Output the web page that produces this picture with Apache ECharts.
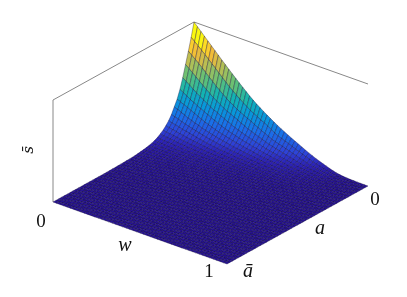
<!DOCTYPE html>
<html><head><meta charset="utf-8">
<style>html,body{margin:0;padding:0;background:#fff}#c{width:407px;height:297px}</style>
<script src="https://cdn.jsdelivr.net/npm/echarts@6/dist/echarts.min.js"></script>
</head><body><div id="c"></div>
<script>
// Surface heights (per mille of full height).
// Each row is one a-step from a=0; columns are w-steps from w=0. Omitted cells are 0.
const cellsPerSide = 50;
const zRows = [
[1000,966,932,897,863,828,794,760,725,692,659,626,594,562,531,500,470,441,415,390,366,343,321,299,278,258,239,221,203,186,169,152,134,118,103,88,75,62,50,38,27,18,12,8,5,3,2,1,1],
[865,835,805,774,743,709,677,645,610,577,545,512,484,456,429,403,379,356,335,316,298,281,261,239,217,202,188,175,161,148,134,121,106,94,81,68,59,49,39,31,22,14,10,6,4,2,2,1],
[745,716,687,658,628,594,562,530,498,469,441,413,390,368,346,326,308,291,275,256,238,221,205,188,172,160,149,139,127,117,106,96,84,74,63,53,46,39,32,25,18,11,8,5,3,2,1],
[630,601,572,543,513,484,456,428,401,378,356,333,316,299,283,266,248,231,215,201,188,175,162,149,137,127,118,110,101,93,84,75,65,57,50,42,37,31,26,20,14,9,6,4,2,1],
[515,490,465,439,413,390,368,345,325,307,291,273,256,240,223,208,195,182,170,159,149,139,129,118,108,101,94,87,80,73,66,59,52,45,39,34,30,25,21,16,11,7,5,3,2,1],
[415,395,375,354,334,316,299,283,265,247,231,214,201,188,176,165,154,144,135,126,118,110,102,94,86,80,74,68,62,57,52,46,41,36,32,28,25,21,17,13,9,6,4,3,1],
[335,320,305,289,274,256,240,223,207,194,182,169,159,149,140,131,122,114,107,100,94,87,81,74,67,62,57,53,49,45,41,37,33,29,26,22,20,17,13,10,7,5,3,2,1],
[275,260,245,229,214,201,188,176,164,154,144,134,126,118,111,104,97,90,85,79,73,68,63,57,53,49,45,42,39,36,33,30,27,24,21,18,16,13,11,8,6,4,2,2],
[215,204,193,181,169,159,149,140,130,122,114,106,100,94,88,82,76,71,66,62,57,53,49,45,42,39,36,34,31,29,27,25,22,20,17,14,12,10,9,7,5,3,2,1],
[170,161,152,143,134,126,118,111,103,97,90,84,79,74,69,64,60,56,52,49,45,42,39,36,33,31,29,27,26,24,22,20,18,16,13,11,10,8,7,6,4,2,1],
[135,128,121,114,106,100,94,88,82,76,71,66,62,58,54,50,47,44,41,39,36,34,32,29,27,26,24,22,21,19,18,16,14,12,11,9,8,7,6,5,3,2,1],
[107,101,96,90,85,79,74,69,64,60,56,52,49,45,43,40,37,35,33,31,29,28,26,24,22,21,20,18,17,15,14,12,11,10,9,7,6,6,5,4,2,1],
[85,80,75,71,66,62,58,54,50,47,44,41,39,36,34,32,30,29,27,25,24,22,21,20,18,17,16,14,13,12,11,10,9,8,7,6,5,5,4,3,2,1],
[66,62,58,55,52,49,46,43,40,38,35,33,31,29,28,26,25,24,22,21,20,18,17,16,15,14,13,12,11,10,9,8,7,7,6,5,5,4,3,2,1],
[52,49,46,43,41,38,36,34,32,30,29,27,26,24,23,22,21,19,18,17,16,15,14,13,12,11,10,10,9,8,8,7,6,6,5,5,4,3,2,2,1],
[41,39,37,35,33,31,30,29,27,26,25,23,22,21,20,18,17,16,15,14,13,12,12,11,10,9,9,8,8,7,7,6,6,5,4,4,3,3,2,1],
[33,31,30,28,27,26,25,24,22,21,20,19,18,17,16,15,14,13,12,12,11,10,10,9,9,8,8,7,7,6,6,5,5,4,4,3,3,2,1,1],
[27,26,25,24,22,21,20,19,18,17,16,15,14,13,13,12,11,11,10,10,9,9,8,8,7,7,6,6,6,5,5,5,4,4,3,3,2,2,1],
[22,21,20,19,18,17,16,15,14,13,13,12,11,11,10,10,9,9,9,8,8,7,7,7,6,6,6,5,5,5,4,4,4,3,3,2,2,1],
[18,17,16,15,14,13,13,12,11,11,10,10,9,9,9,8,8,7,7,7,6,6,6,6,5,5,5,4,4,4,4,3,3,3,2,2,1,1],
[14,13,13,12,11,11,10,10,9,9,8,8,8,7,7,7,7,6,6,6,6,5,5,5,5,4,4,4,4,3,3,3,2,2,2,1,1],
[11,11,10,10,9,9,8,8,8,7,7,7,7,6,6,6,6,5,5,5,5,5,4,4,4,4,3,3,3,3,2,2,2,2,1,1],
[9,9,8,8,8,7,7,7,7,6,6,6,6,6,5,5,5,5,5,4,4,4,4,3,3,3,3,3,2,2,2,2,1,1,1],
[7,7,7,7,6,6,6,6,6,5,5,5,5,5,5,4,4,4,4,4,3,3,3,3,3,2,2,2,2,2,1,1,1],
[6,6,6,5,5,5,5,5,5,4,4,4,4,4,4,3,3,3,3,3,3,2,2,2,2,2,2,1,1,1],
[5,5,5,4,4,4,4,4,4,3,3,3,3,3,3,3,2,2,2,2,2,2,2,1,1,1,1],
[4,4,4,3,3,3,3,3,3,3,2,2,2,2,2,2,2,2,2,1,1,1,1,1],
[3,3,3,3,2,2,2,2,2,2,2,2,2,2,1,1,1,1,1,1],
[2,2,2,2,2,2,2,2,2,1,1,1,1,1,1,1],
[2,2,2,1,1,1,1,1,1,1,1],
[1,1,1,1,1]
];
const parulaStops = [[0,40,20,148],[.06,44,34,182],[.125,46,66,216],[.25,26,112,232],[.375,8,152,218],[.5,20,180,176],[.625,95,192,120],[.75,170,192,90],[.875,240,186,58],[.95,254,214,40],[1,250,248,16]];
const colorGain = 1.17;
const boxCorners = [[0,1,0],[0,1,1],[0,0,1],[1,0,1]]; // [w, a, s] in unit box

const origin=[194,124], wVec=[174,62], aVec=[-141,78], zVec=-102;
function project(w,a,z){return [origin[0]+w*wVec[0]+a*aVec[0], origin[1]+w*wVec[1]+a*aVec[1]+z*zVec];}
function zAt(i,j){const r=zRows[i]; return r&&r[j]?r[j]/1000:0;}
function color(z){
  const t=Math.min(1,z*colorGain);
  for(let k=1;k<parulaStops.length;k++){
    if(t<=parulaStops[k][0]){
      const a=parulaStops[k-1],b=parulaStops[k],f=(t-a[0])/(b[0]-a[0]);
      return `rgb(${[1,2,3].map(c=>Math.round(a[c]+(b[c]-a[c])*f)).join(',')})`;
    }
  }
  return 'rgb(250,248,16)';
}
const cells=[];
for(let i=0;i<cellsPerSide;i++)for(let j=0;j<cellsPerSide;j++){
  const n=cellsPerSide;
  const q=[[i,j],[i,j+1],[i+1,j+1],[i+1,j]].map(([a,w])=>project(w/n,a/n,zAt(a,w)));
  const m=(zAt(i,j)+zAt(i,j+1)+zAt(i+1,j+1)+zAt(i+1,j))/4;
  cells.push([q[0][0],q[0][1],q[1][0],q[1][1],q[2][0],q[2][1],q[3][0],q[3][1],m]);
}
const T=(text,x,y,style,rot)=>({type:'text',x,y,rotation:rot||0,z:10,style:Object.assign({text,fill:'#111',font:'19px "Liberation Serif"',textAlign:'center',textVerticalAlign:'middle'},style||{})});
const it={font:'italic 20px "Liberation Serif"'};
const chart=echarts.init(document.getElementById('c'),null,{renderer:'canvas'});
chart.setOption({
  animation:false,
  grid:{left:0,right:0,top:0,bottom:0},
  xAxis:{type:'value',min:0,max:407,show:false},
  yAxis:{type:'value',min:0,max:297,inverse:true,show:false},
  series:[
    {type:'line',data:boxCorners.map(c=>project(c[0],c[1],c[2])),showSymbol:false,silent:true,z:1,
     lineStyle:{color:'#888',width:1}},
    {type:'custom',data:cells,coordinateSystem:'cartesian2d',silent:true,z:2,progressive:0,
     renderItem(p,api){
       const pts=[0,2,4,6].map(k=>api.coord([api.value(k),api.value(k+1)]));
       return {type:'polygon',shape:{points:pts},style:{fill:color(api.value(8)),stroke:'rgba(8,0,50,0.6)',lineWidth:0.55}};
     }}
  ],
  graphic:[
    T('0',41,222),T('1',209,272),T('0',375,200),
    T('w',125,246,it),T('a',320,229,it),T('ā',248,272,it),
    T('s̄',29,150,{font:'italic 15px "DejaVu Serif"'},Math.PI/2)
  ]
});
</script></body></html>
